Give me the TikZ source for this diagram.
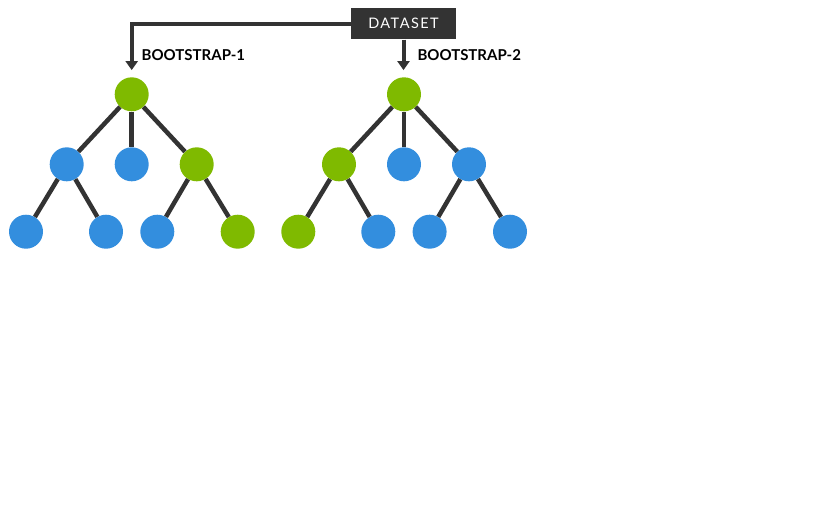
\documentclass[tikz,border=0pt]{standalone}
\usepackage{fontspec}
\setmainfont{Lato}
\newfontfamily\dsfont[LetterSpace=10]{Lato}
\usetikzlibrary{arrows.meta}
\definecolor{tgreen}{RGB}{127,186,0}
\definecolor{tblue}{RGB}{51,142,222}
\definecolor{tdark}{RGB}{51,51,51}
\tikzset{
  gn/.style={circle,fill=tgreen,minimum size=34pt,inner sep=0pt},
  bn/.style={circle,fill=tblue,minimum size=34pt,inner sep=0pt},
  edge/.style={draw=tdark,line width=4.5pt},
  feed/.style={draw=tdark,line width=4pt,-{Triangle[width=12pt,length=9pt]},shorten >=7pt},
  lbl/.style={anchor=west,font=\bfseries\fontsize{15}{18}\selectfont,inner sep=0pt},
  dsbox/.style={fill=tdark,text=white,minimum width=105pt,minimum height=31pt,inner sep=0pt,font=\dsfont\fontsize{14.5}{17}\selectfont}
}
\begin{document}
\begin{tikzpicture}[x=1pt,y=-1pt]
\useasboundingbox (0,0) rectangle (820,531);
% left tree
\node[gn] (a0) at (131.7,94.3) {};
\node[bn] (a1) at (66.7,164.3) {};
\node[bn] (a2) at (131.7,164.3) {};
\node[gn] (a3) at (196.7,164.3) {};
\node[bn] (a4) at (26,231.7) {};
\node[bn] (a5) at (106,231.7) {};
\node[bn] (a6) at (157.3,231.7) {};
\node[gn] (a7) at (237.7,231.7) {};
% right tree
\node[gn] (b0) at (404,94.3) {};
\node[gn] (b1) at (339,164.3) {};
\node[bn] (b2) at (404,164.3) {};
\node[bn] (b3) at (469,164.3) {};
\node[gn] (b4) at (298.3,231.7) {};
\node[bn] (b5) at (378.3,231.7) {};
\node[bn] (b6) at (429.6,231.7) {};
\node[bn] (b7) at (510,231.7) {};
\foreach \t in {a,b}{
  \draw[edge] (\t0) -- (\t1);
  \draw[edge] (\t0) -- (\t2);
  \draw[edge] (\t0) -- (\t3);
  \draw[edge] (\t1) -- (\t4);
  \draw[edge] (\t1) -- (\t5);
  \draw[edge] (\t3) -- (\t6);
  \draw[edge] (\t3) -- (\t7);
}
\node[dsbox] (ds) at (403.5,23.8) {DATASET};
\draw[feed] (ds.west) -| (a0.north);
\draw[feed] (ds.south) -- (ds.south |- b0.north);
\node[lbl] (l1) at (141.5,55) {BOOTSTRAP-1};
\node[lbl] (l2) at (417.3,55) {BOOTSTRAP-2};
\end{tikzpicture}
\end{document}
